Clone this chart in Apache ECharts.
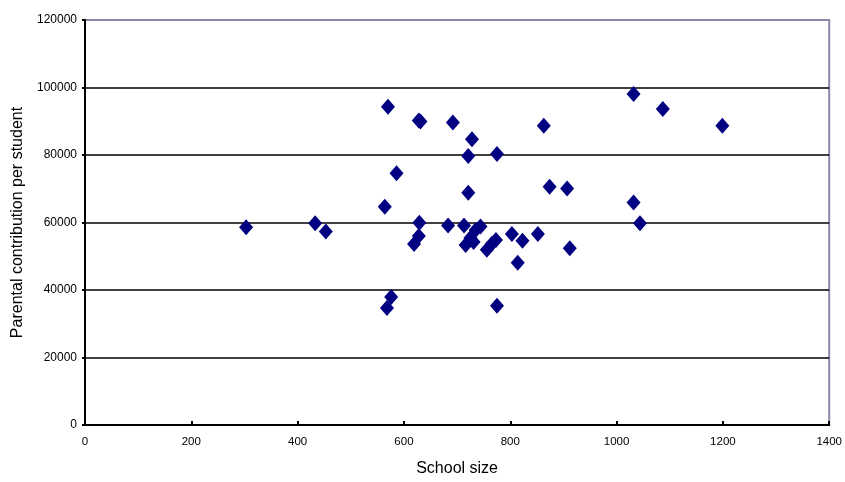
<!DOCTYPE html>
<html>
<head>
<meta charset="utf-8">
<script src="https://cdn.jsdelivr.net/npm/echarts@6/dist/echarts.min.js"></script>
<style>html,body{margin:0;padding:0;background:#fff}#c{width:845px;height:482px}</style>
</head>
<body>
<div id="c"></div>
<script>
var schoolSize = [303, 433, 453, 570, 586, 564, 628, 631, 692, 728, 721, 775, 863, 721, 874, 907,
  1032, 1087, 1199, 1032, 1044, 912, 852, 814, 803, 823, 775, 576, 568, 629, 628, 619, 683, 713,
  716, 725, 735, 744, 731, 756, 765, 773];
var contribution = [58600, 59800, 57300, 94300, 74600, 64700, 90200, 89900, 89600, 84700, 79700, 80300, 88700, 68800, 70600, 70100,
  98100, 93600, 88700, 65900, 59800, 52400, 56600, 48100, 56600, 54600, 35300, 37900, 34700, 59900, 56000, 53600, 59100, 59100,
  53300, 55400, 57800, 58800, 54200, 51900, 53600, 54800];
var xTicks = [0, 200, 400, 600, 800, 1000, 1200, 1400];
var yTicks = [0, 20000, 40000, 60000, 80000, 100000, 120000];

var points = schoolSize.map(function (x, i) { return [x, contribution[i]]; });
var gridColors = yTicks.map(function (v, i) { return i === yTicks.length - 1 ? '#8a8aa6' : '#000'; });
var chart = echarts.init(document.getElementById('c'));
chart.setOption({
  animation: false,
  backgroundColor: '#fff',
  grid: { left: 85, right: 12, top: 20, bottom: 57, show: true, borderColor: '#8a8aa6', borderWidth: 2, backgroundColor: 'transparent' },
  xAxis: {
    type: 'value', min: xTicks[0], max: xTicks[xTicks.length - 1], interval: 200,
    name: 'School size', nameLocation: 'middle', nameGap: 36,
    nameTextStyle: { fontFamily: 'Liberation Sans', fontSize: 16, color: '#000' },
    axisLine: { show: true, lineStyle: { color: '#000', width: 2 } },
    axisTick: { show: true, inside: true, length: 4, lineStyle: { color: '#000', width: 2 } },
    axisLabel: { fontFamily: 'Liberation Sans', fontSize: 11.5, color: '#000', margin: 11, formatter: function (v) { return String(v); } },
    splitLine: { show: false }
  },
  yAxis: {
    type: 'value', min: yTicks[0], max: yTicks[yTicks.length - 1], interval: 20000,
    name: 'Parental contribution per student', nameLocation: 'middle', nameGap: 56,
    nameTextStyle: { fontFamily: 'Liberation Sans', fontSize: 16, color: '#000' },
    axisLine: { show: true, lineStyle: { color: '#000', width: 2 } },
    axisTick: { show: true, inside: false, length: 3, lineStyle: { color: '#000', width: 2 } },
    axisLabel: { fontFamily: 'Liberation Sans', fontSize: 12, color: '#000', margin: 8, formatter: function (v) { return String(v); } },
    splitLine: { show: true, lineStyle: { color: gridColors, width: 1.5 } }
  },
  series: [{
    type: 'scatter',
    data: points,
    symbol: 'diamond',
    symbolSize: [14, 16],
    itemStyle: { color: '#000080', opacity: 1 }
  }]
});
</script>
</body>
</html>
